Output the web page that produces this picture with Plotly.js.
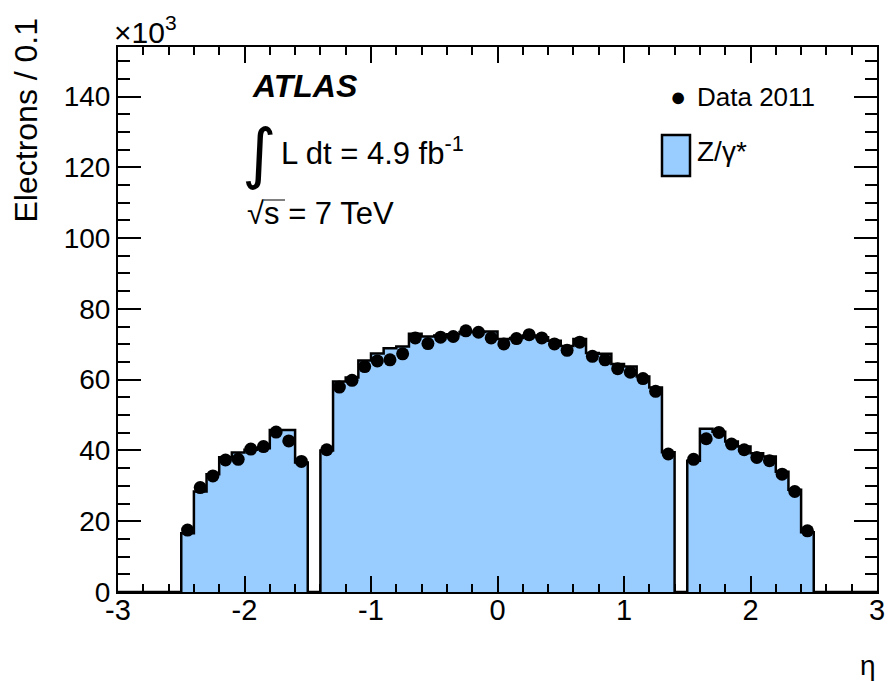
<!DOCTYPE html>
<html>
<head>
<meta charset="utf-8">
<script src="https://cdn.plot.ly/plotly-3.0.1.min.js"></script>
<style>html,body{margin:0;padding:0;background:#fff;}#chart{width:888px;height:681px;}</style>
</head>
<body>
<div id="chart"></div>
<script>
// Binning: 60 bins of width 0.1 from -3 to 3 (eta)
const etaMin = -3;
const binWidth = 0.1;
// Z/gamma* MC prediction per bin, in units of 10^3 electrons
const mcValues = [
  0, 0, 0, 0, 0,
  16.6, 28.4, 33.3, 38.1, 39.4, 40.2, 40.6, 45.8, 45.8, 36.6,
  0,
  40.0, 59.5, 60.6, 65.4, 67.4, 68.9, 69.4, 73.0, 72.2, 72.5,
  72.8, 73.5, 73.5, 73.6, 71.5, 71.8, 72.5, 72.0, 71.0, 69.5,
  71.5, 67.5, 67.3, 64.4, 63.7, 60.9, 57.8, 39.5,
  0,
  37.1, 46.1, 45.3, 42.5, 41.1, 39.2, 38.3, 34.0, 28.9, 16.9,
  0, 0, 0, 0, 0
];
// Data 2011 per bin, in units of 10^3 electrons (null = no entry drawn)
const dataValues = [
  null, null, null, null, null,
  17.5, 29.5, 32.8, 37.3, 37.5, 40.4, 41.1, 45.2, 42.7, 36.9,
  null,
  40.2, 57.9, 59.8, 63.7, 65.3, 65.6, 67.3, 71.8, 70.2, 72.0,
  72.2, 73.8, 73.4, 71.8, 70.1, 71.6, 72.7, 71.8, 70.1, 68.3,
  70.6, 66.6, 65.6, 63.1, 62.1, 60.3, 56.7, 39.0,
  null,
  37.5, 43.3, 45.1, 41.8, 40.2, 38.0, 37.1, 33.3, 28.4, 17.3,
  null, null, null, null, null
];
const xTickVals = [-3, -2, -1, 0, 1, 2, 3];
const xTickText = ["-3", "-2", "-1", "0", "1", "2", "3"];
const yTickVals = [0, 20, 40, 60, 80, 100, 120, 140];
const yTickText = ["0", "20", "40", "60", "80", "100", "120", "140"];

// bin edges / centres derived from the binning
const nBins = mcValues.length;
const edgesX = [], edgesY = [];
for (let i = 0; i < nBins; i++) { edgesX.push(+(etaMin + i * binWidth).toFixed(3)); edgesY.push(mcValues[i]); }
edgesX.push(+(etaMin + nBins * binWidth).toFixed(3)); edgesY.push(mcValues[nBins - 1]);
const centres = [];
for (let i = 0; i < nBins; i++) centres.push(+(etaMin + (i + 0.5) * binWidth).toFixed(3));

const FONT = "Liberation Sans, Arial, Helvetica, sans-serif";

const traces = [
  {
    type: "scatter", mode: "lines", x: edgesX, y: edgesY,
    line: {shape: "hv", color: "#000", width: 2.5},
    fill: "tozeroy", fillcolor: "#99ccff",
    name: "Z/γ*", showlegend: false, hoverinfo: "skip"
  },
  {
    type: "scatter", mode: "markers", x: centres, y: dataValues,
    marker: {color: "#000", size: 13, symbol: "circle"},
    name: "Data 2011", showlegend: false
  }
];

function px(x) { return (x - 118) / 759; }
function py(y) { return (592 - y) / 545; }

const layout = {
  width: 888, height: 681,
  margin: {l: 118, r: 11, t: 47, b: 89},
  paper_bgcolor: "#fff", plot_bgcolor: "#fff",
  showlegend: false,
  font: {family: FONT, color: "#000", size: 28},
  xaxis: {
    range: [-3, 3], tickvals: xTickVals, ticktext: xTickText,
    ticks: "inside", ticklen: 16, tickwidth: 2, tickcolor: "#000",
    minor: {dtick: 0.2, ticks: "inside", ticklen: 8, tickwidth: 2, tickcolor: "#000"},
    showline: true, linecolor: "#000", linewidth: 2, mirror: "allticks",
    showgrid: false, zeroline: false, ticklabelstandoff: -9,
    tickfont: {family: FONT, size: 29, color: "#000"}
  },
  yaxis: {
    range: [0, 154], tickvals: yTickVals, ticktext: yTickText,
    ticks: "inside", ticklen: 23, tickwidth: 2, tickcolor: "#000",
    minor: {dtick: 5, ticks: "inside", ticklen: 12, tickwidth: 2, tickcolor: "#000"},
    showline: true, linecolor: "#000", linewidth: 2, mirror: "allticks",
    showgrid: false, zeroline: false,
    tickfont: {family: FONT, size: 28, color: "#000"}
  },
  shapes: [
    {type: "rect", xref: "paper", yref: "paper", x0: px(662), x1: px(690), y0: py(176), y1: py(135),
     line: {color: "#000", width: 2.5}, fillcolor: "#99ccff"},
    {type: "line", xref: "paper", yref: "paper", x0: px(264), x1: px(285), y0: py(200), y1: py(200),
     line: {color: "#000", width: 1}}
  ],
  annotations: [
    {xref: "paper", yref: "paper", x: px(26), y: py(16), xanchor: "center", yanchor: "top",
     text: "Electrons / 0.1", textangle: -90, showarrow: false, font: {size: 32}},
    {xref: "paper", yref: "paper", x: px(878), y: py(665), xanchor: "right", yanchor: "middle",
     text: "η", showarrow: false, font: {size: 28}},
    {xref: "paper", yref: "paper", x: px(112), y: py(30), xanchor: "left", yanchor: "middle",
     text: "×10<sup>3</sup>", showarrow: false, font: {size: 30}},
    {xref: "paper", yref: "paper", x: px(250), y: py(86), xanchor: "left", yanchor: "middle",
     text: "<b><i>ATLAS</i></b>", showarrow: false, font: {size: 32}},
    {xref: "paper", yref: "paper", x: px(259), y: py(154), xanchor: "center", yanchor: "middle",
     text: "∫", showarrow: false, font: {size: 66, family: "DejaVu Sans"}},
    {xref: "paper", yref: "paper", x: px(279), y: py(151), xanchor: "left", yanchor: "middle",
     text: "L dt = 4.9 fb<sup>-1</sup>", showarrow: false, font: {size: 31}},
    {xref: "paper", yref: "paper", x: px(245), y: py(213), xanchor: "left", yanchor: "middle",
     text: "√s = 7 TeV", showarrow: false, font: {size: 31}},
    {xref: "paper", yref: "paper", x: px(678), y: py(97), xanchor: "center", yanchor: "middle",
     text: "●", showarrow: false, font: {size: 27}},
    {xref: "paper", yref: "paper", x: px(695), y: py(97), xanchor: "left", yanchor: "middle",
     text: "Data 2011", showarrow: false, font: {size: 26}},
    {xref: "paper", yref: "paper", x: px(695), y: py(151), xanchor: "left", yanchor: "middle",
     text: "Z/γ*", showarrow: false, font: {size: 28}}
  ]
};

Plotly.newPlot("chart", traces, layout, {displayModeBar: false, staticPlot: true});
</script>
</body>
</html>
